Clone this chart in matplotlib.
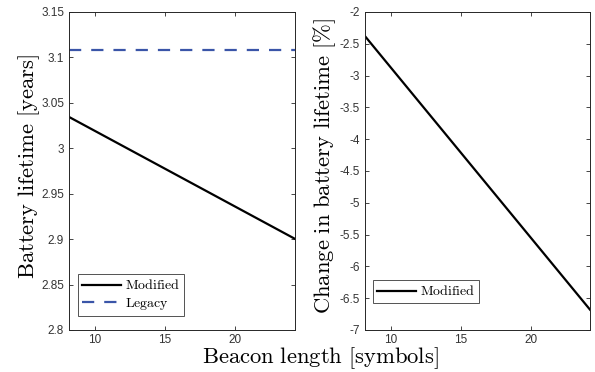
import matplotlib
matplotlib.use("Agg")
import matplotlib.pyplot as plt

plt.rcParams['mathtext.fontset'] = 'cm'
plt.rcParams['font.family'] = 'Liberation Sans'

# beacon length [symbols]
beacon_len = [8.15, 24.25]
# battery lifetime [years]
life_modified = [3.0345, 2.9003]
life_legacy = [3.1086, 3.1086]
# change in battery lifetime [%]
change_modified = [-2.38, -6.68]

xticks = [10, 15, 20]
yticks_left = [2.8, 2.85, 2.9, 2.95, 3.0, 3.05, 3.1, 3.15]
yticklabels_left = ['2.8', '2.85', '2.9', '2.95', '3', '3.05', '3.1', '3.15']
yticks_right = [-7, -6.5, -6, -5.5, -5, -4.5, -4, -3.5, -3, -2.5, -2]
yticklabels_right = ['-7', '-6.5', '-6', '-5.5', '-5', '-4.5', '-4', '-3.5', '-3', '-2.5', '-2']

axis_col = '#262626'
blue = '#3a55a8'

fig = plt.figure(figsize=(5.95, 3.72), dpi=100)
ax1 = fig.add_axes([69/595, 1-330/372, 226/595, 318/372])
ax2 = fig.add_axes([365/595, 1-330/372, 225/595, 318/372])


def style(ax):
    for s in ax.spines.values():
        s.set_color(axis_col)
        s.set_linewidth(0.7)
    ax.tick_params(direction='in', top=True, right=True, length=3,
                   width=0.6, color=axis_col, labelsize=8.5, labelcolor='#333333')
    ax.tick_params(axis='x', pad=3)
    ax.set_xticks(xticks)
    ax.set_xticklabels([str(t) for t in xticks])
    ax.set_xlim(beacon_len[0], beacon_len[-1])


ax1.plot(beacon_len, life_modified, '-', color='black', linewidth=1.6, label=r'$\mathrm{Modified}$')
ax1.plot(beacon_len, life_legacy, '--', color=blue, linewidth=1.6, dashes=(5.5, 4.5), label=r'$\mathrm{Legacy}$')
style(ax1)
ax1.set_ylim(2.8, 3.15)
ax1.set_yticks(yticks_left)
ax1.set_yticklabels(yticklabels_left)
ax1.set_ylabel(r'$\mathrm{Battery\ lifetime\ [years]}$', fontsize=16.3)
ax1.yaxis.set_label_coords(-0.12, 0.515)
leg1 = ax1.legend(loc='lower left', bbox_to_anchor=(0.04, 0.044), fontsize=10, fancybox=False,
                  edgecolor=axis_col, handlelength=2.8, borderpad=0.3, labelspacing=0.25,
                  handletextpad=0.3, borderaxespad=0)
leg1.get_frame().set_linewidth(0.7)

ax2.plot(beacon_len, change_modified, '-', color='black', linewidth=1.6, label=r'$\mathrm{Modified}$')
style(ax2)
ax2.set_ylim(-7, -2)
ax2.set_yticks(yticks_right)
ax2.set_yticklabels(yticklabels_right)
ax2.set_ylabel(r'$\mathrm{Change\ in\ battery\ lifetime\ [\%]}$', fontsize=16.3)
ax2.yaxis.set_label_coords(-0.12, 0.515)
leg2 = ax2.legend(loc='lower left', bbox_to_anchor=(0.034, 0.086), fontsize=10, fancybox=False,
                  edgecolor=axis_col, handlelength=2.8, borderpad=0.3,
                  handletextpad=0.3, borderaxespad=0)
leg2.get_frame().set_linewidth(0.7)

fig.text(320/595, 1-358.5/372, r'$\mathrm{Beacon\ length\ [symbols]}$', fontsize=16.3,
         ha='center', va='center')

fig.savefig('out.png', dpi=100)
